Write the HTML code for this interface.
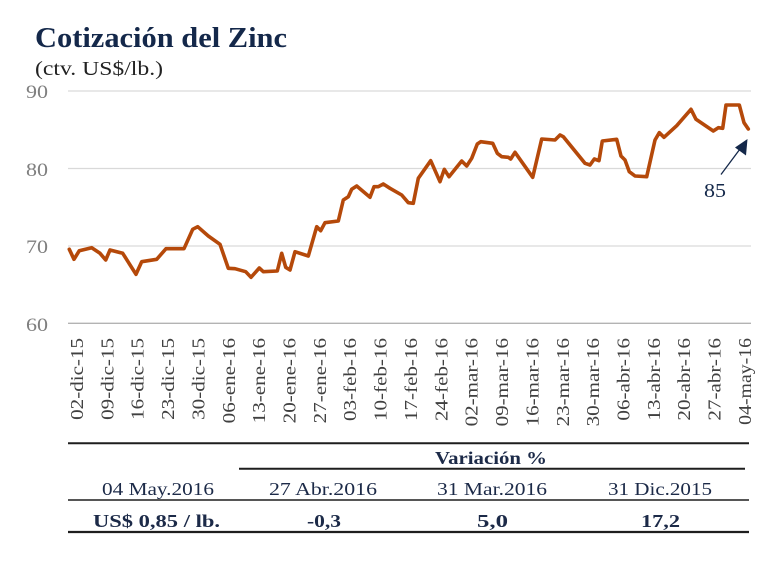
<!DOCTYPE html>
<html>
<head>
<meta charset="utf-8">
<style>
html,body{margin:0;padding:0;background:#fff;}
svg{display:block;}
text{font-family:"Liberation Serif",serif;}
</style>
</head>
<body>
<svg width="780" height="574" viewBox="0 0 780 574" xmlns="http://www.w3.org/2000/svg">
<rect width="780" height="574" fill="#fff"/>
<!-- Title -->
<text x="35" y="47" font-size="29" font-weight="bold" fill="#14284a" textLength="252" lengthAdjust="spacingAndGlyphs">Cotización del Zinc</text>
<text x="35" y="75" font-size="20" fill="#222" textLength="128" lengthAdjust="spacingAndGlyphs">(ctv. US$/lb.)</text>

<!-- gridlines -->
<g stroke="#d9d9d9" stroke-width="1.3">
<line x1="68" y1="91" x2="751" y2="91"/>
<line x1="68" y1="168.5" x2="751" y2="168.5"/>
<line x1="68" y1="246" x2="751" y2="246"/>
</g>
<line x1="68" y1="323.3" x2="751" y2="323.3" stroke="#b3b3b3" stroke-width="1.3"/>

<!-- y labels -->
<g font-size="19" fill="#7f7f7f" text-anchor="end">
<text x="48" y="98" textLength="22" lengthAdjust="spacingAndGlyphs">90</text>
<text x="48" y="176" textLength="22" lengthAdjust="spacingAndGlyphs">80</text>
<text x="48" y="253" textLength="22" lengthAdjust="spacingAndGlyphs">70</text>
<text x="48" y="331" textLength="22" lengthAdjust="spacingAndGlyphs">60</text>
</g>

<!-- x labels -->
<g font-size="18" fill="#404040" text-anchor="end">
<text transform="translate(83,338) rotate(-90) scale(1.17,1)">02-dic-15</text>
<text transform="translate(113.4,338) rotate(-90) scale(1.17,1)">09-dic-15</text>
<text transform="translate(143.7,338) rotate(-90) scale(1.17,1)">16-dic-15</text>
<text transform="translate(174.1,338) rotate(-90) scale(1.17,1)">23-dic-15</text>
<text transform="translate(204.4,338) rotate(-90) scale(1.17,1)">30-dic-15</text>
<text transform="translate(234.8,338) rotate(-90) scale(1.17,1)">06-ene-16</text>
<text transform="translate(265.2,338) rotate(-90) scale(1.17,1)">13-ene-16</text>
<text transform="translate(295.5,338) rotate(-90) scale(1.17,1)">20-ene-16</text>
<text transform="translate(325.9,338) rotate(-90) scale(1.17,1)">27-ene-16</text>
<text transform="translate(356.2,338) rotate(-90) scale(1.17,1)">03-feb-16</text>
<text transform="translate(386.6,338) rotate(-90) scale(1.17,1)">10-feb-16</text>
<text transform="translate(417,338) rotate(-90) scale(1.17,1)">17-feb-16</text>
<text transform="translate(447.3,338) rotate(-90) scale(1.17,1)">24-feb-16</text>
<text transform="translate(477.7,338) rotate(-90) scale(1.17,1)">02-mar-16</text>
<text transform="translate(508,338) rotate(-90) scale(1.17,1)">09-mar-16</text>
<text transform="translate(538.4,338) rotate(-90) scale(1.17,1)">16-mar-16</text>
<text transform="translate(568.8,338) rotate(-90) scale(1.17,1)">23-mar-16</text>
<text transform="translate(599.1,338) rotate(-90) scale(1.17,1)">30-mar-16</text>
<text transform="translate(629.5,338) rotate(-90) scale(1.17,1)">06-abr-16</text>
<text transform="translate(659.8,338) rotate(-90) scale(1.17,1)">13-abr-16</text>
<text transform="translate(690.2,338) rotate(-90) scale(1.17,1)">20-abr-16</text>
<text transform="translate(720.6,338) rotate(-90) scale(1.17,1)">27-abr-16</text>
<text transform="translate(751,338) rotate(-90) scale(1.1,1)">04-may-16</text>
</g>

<!-- series -->
<polyline fill="none" stroke="#b5490a" stroke-width="3.6" stroke-linejoin="round" stroke-linecap="round" points="
69.3,249.3 74,259.3 79.3,250.7 91.7,247.7 100,253.3 105.7,260 110,250 122.7,253.3 136,274.3 141.7,261.7 156.7,259.3 166,248.7 184,248.7 192.7,229.3 197.7,226.7 208.3,236 220,244.3 228.3,268.3 235,268.7 245.7,271.7 251,277.3 259.3,268 263.3,271.7 277.3,271 281.7,253.3 285.7,267.3 290,270 295,251.7 308.3,256 316.7,226.7 320.7,230.7 325,222.7 338.3,221 343.3,200 348.3,196.7 351.7,189.3 356.7,186 370,197.3 374,186.7 378.3,186.7 383.3,184 390,188.3 401.7,195 408.3,202.7 413.3,203.3 418.3,178.3 430.7,160.7 440,181.7 444.3,169.3 449,176.7 461.7,161 466.7,166 471.7,158.3 477.3,144 480.7,141.7 492.7,143.3 497.3,153.3 501.7,156.7 508.3,157.3 510.7,159 515,152.3 532.7,177.3 541.7,139 555,140 560,135 563.3,136.7 585,163.3 590,165 594.3,159 599,160.7 602.3,141 616.7,139.3 621,156 625,160 629.3,171.7 635,176 646.7,176.7 655,140 659.3,132.7 664,137.3 676.7,125.7 691,109.3 696,119.3 713.3,131 718.3,127.7 722.7,128.3 726,105 739.3,105 744,122.7 748.3,129"/>

<!-- annotation -->
<line x1="721" y1="174.5" x2="740" y2="149" stroke="#14284a" stroke-width="1.3"/>
<polygon points="747.5,139 746,155.5 735,147.5" fill="#14284a"/>
<text x="704" y="197" font-size="20" fill="#14284a" textLength="22" lengthAdjust="spacingAndGlyphs">85</text>

<!-- table -->
<g stroke="#1e1e1e">
<line x1="68" y1="443.3" x2="749" y2="443.3" stroke-width="2"/>
<line x1="239" y1="468.7" x2="745" y2="468.7" stroke-width="2"/>
<line x1="68" y1="500" x2="749" y2="500" stroke-width="1.5"/>
<line x1="68" y1="532" x2="749" y2="532" stroke-width="2.2"/>
</g>
<g fill="#1c2a48" text-anchor="middle">
<text x="491" y="464" font-size="18" font-weight="bold" textLength="112" lengthAdjust="spacingAndGlyphs">Variación %</text>
<text x="158" y="495" font-size="18" textLength="112" lengthAdjust="spacingAndGlyphs">04 May.2016</text>
<text x="323" y="495" font-size="18" textLength="108" lengthAdjust="spacingAndGlyphs">27 Abr.2016</text>
<text x="492" y="495" font-size="18" textLength="110" lengthAdjust="spacingAndGlyphs">31 Mar.2016</text>
<text x="660" y="495" font-size="18" textLength="104" lengthAdjust="spacingAndGlyphs">31 Dic.2015</text>
<text x="156.5" y="527" font-size="18" font-weight="bold" textLength="127" lengthAdjust="spacingAndGlyphs">US$ 0,85 / lb.</text>
<text x="324" y="527" font-size="18" font-weight="bold" textLength="34" lengthAdjust="spacingAndGlyphs">-0,3</text>
<text x="492.5" y="527" font-size="18" font-weight="bold" textLength="31" lengthAdjust="spacingAndGlyphs">5,0</text>
<text x="660.5" y="527" font-size="18" font-weight="bold" textLength="39" lengthAdjust="spacingAndGlyphs">17,2</text>
</g>
</svg>
</body>
</html>
